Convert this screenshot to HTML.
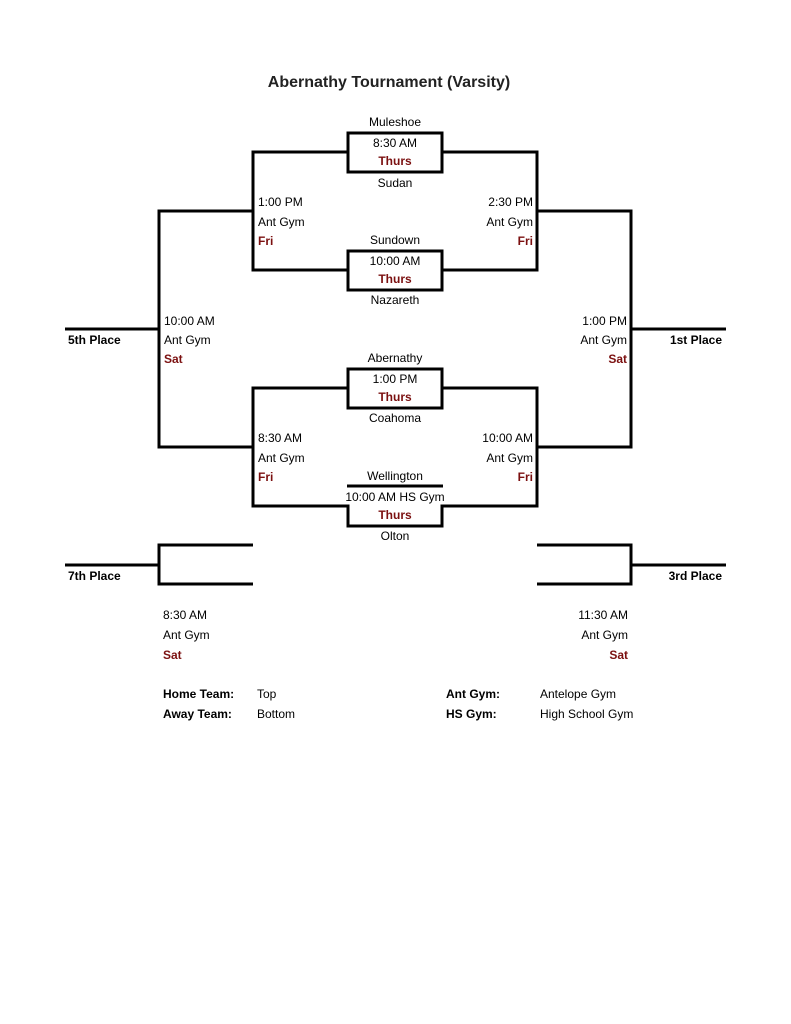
<!DOCTYPE html>
<html><head><meta charset="utf-8"><style>
html,body{margin:0;padding:0;background:#fff;}
svg{display:block;}
text{font-family:"Liberation Sans",Arial,sans-serif;font-size:12px;fill:#000;}
.r{fill:#7b1010;font-weight:bold;}
.b{font-weight:bold;}
.m{text-anchor:middle;}
.e{text-anchor:end;}
</style></head><body>
<svg width="791" height="1024" viewBox="0 0 791 1024" xmlns="http://www.w3.org/2000/svg">
<text x="389" y="87" class="m" style="font-size:16px;font-weight:bold;fill:#222">Abernathy Tournament (Varsity)</text>
<g stroke="#000" stroke-width="3" fill="none">
<rect x="348" y="133" width="94" height="39"/>
<rect x="348" y="251" width="94" height="39"/>
<polyline points="348,152 253,152 253,270 348,270"/>
<polyline points="442,152 537,152 537,270 442,270"/>
<rect x="348" y="369" width="94" height="39"/>
<polyline points="348,388 253,388 253,506 348,506 348,526 442,526 442,506 537,506 537,388 442,388"/>
<line x1="347" y1="486" x2="443" y2="486"/>
<polyline points="253,211 159,211 159,447 253,447"/>
<polyline points="537,211 631,211 631,447 537,447"/>
<line x1="65" y1="329" x2="159" y2="329"/>
<line x1="631" y1="329" x2="726" y2="329"/>
<polyline points="253,545 159,545 159,584 253,584"/>
<polyline points="537,545 631,545 631,584 537,584"/>
<line x1="65" y1="565" x2="159" y2="565"/>
<line x1="631" y1="565" x2="726" y2="565"/>
</g>
<text x="395" y="126" class="m">Muleshoe</text>
<text x="395" y="147" class="m">8:30 AM</text>
<text x="395" y="165" class="m r">Thurs</text>
<text x="395" y="187" class="m">Sudan</text>
<text x="258" y="206">1:00 PM</text>
<text x="258" y="226">Ant Gym</text>
<text x="258" y="245" class="r">Fri</text>
<text x="533" y="206" class="e">2:30 PM</text>
<text x="533" y="226" class="e">Ant Gym</text>
<text x="533" y="245" class="e r">Fri</text>
<text x="395" y="244" class="m">Sundown</text>
<text x="395" y="265" class="m">10:00 AM</text>
<text x="395" y="283" class="m r">Thurs</text>
<text x="395" y="304" class="m">Nazareth</text>
<text x="164" y="325">10:00 AM</text>
<text x="164" y="344">Ant Gym</text>
<text x="164" y="363" class="r">Sat</text>
<text x="68" y="344" class="b">5th Place</text>
<text x="627" y="325" class="e">1:00 PM</text>
<text x="627" y="344" class="e">Ant Gym</text>
<text x="627" y="363" class="e r">Sat</text>
<text x="722" y="344" class="e b">1st Place</text>
<text x="395" y="362" class="m">Abernathy</text>
<text x="395" y="383" class="m">1:00 PM</text>
<text x="395" y="401" class="m r">Thurs</text>
<text x="395" y="422" class="m">Coahoma</text>
<text x="258" y="442">8:30 AM</text>
<text x="258" y="462">Ant Gym</text>
<text x="258" y="481" class="r">Fri</text>
<text x="533" y="442" class="e">10:00 AM</text>
<text x="533" y="462" class="e">Ant Gym</text>
<text x="533" y="481" class="e r">Fri</text>
<text x="395" y="480" class="m">Wellington</text>
<text x="395" y="501" class="m">10:00 AM HS Gym</text>
<text x="395" y="519" class="m r">Thurs</text>
<text x="395" y="540" class="m">Olton</text>
<text x="68" y="580" class="b">7th Place</text>
<text x="722" y="580" class="e b">3rd Place</text>
<text x="163" y="619">8:30 AM</text>
<text x="163" y="639">Ant Gym</text>
<text x="163" y="659" class="r">Sat</text>
<text x="628" y="619" class="e">11:30 AM</text>
<text x="628" y="639" class="e">Ant Gym</text>
<text x="628" y="659" class="e r">Sat</text>
<text x="163" y="698" class="b">Home Team:</text>
<text x="257" y="698">Top</text>
<text x="163" y="718" class="b">Away Team:</text>
<text x="257" y="718">Bottom</text>
<text x="446" y="698" class="b">Ant Gym:</text>
<text x="540" y="698">Antelope Gym</text>
<text x="446" y="718" class="b">HS Gym:</text>
<text x="540" y="718">High School Gym</text>
</svg>
</body></html>
